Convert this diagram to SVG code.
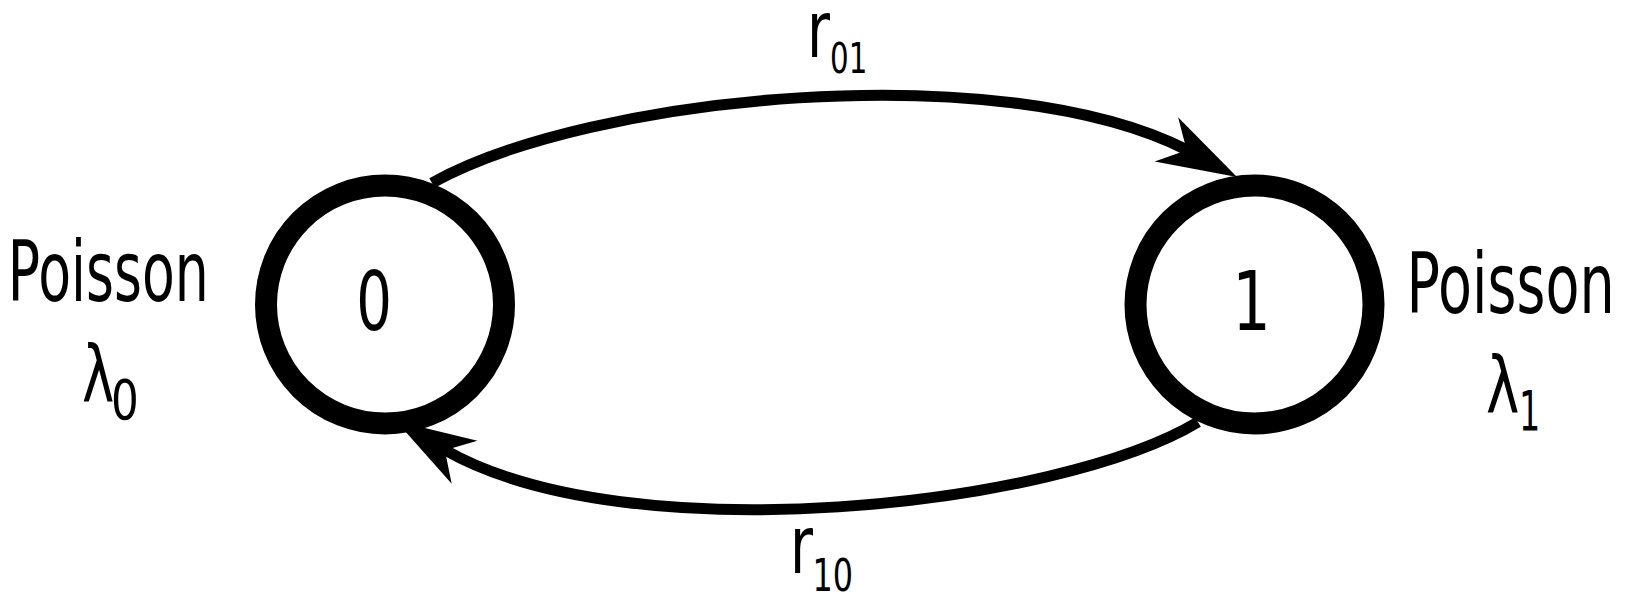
<svg xmlns="http://www.w3.org/2000/svg" xmlns:xlink="http://www.w3.org/1999/xlink" width="1628" height="606" viewBox="0 0 1628 606">
  <style>
    .state { fill: #fff; stroke: #000; stroke-width: 22; }
    .edge { fill: none; stroke: #000; stroke-width: 11; }
    .head { fill: #000; stroke: none; }
    .t { font-family: "DejaVu Sans", "Liberation Sans", sans-serif; fill: #000; }
  </style>
  <defs>
    <path id="ah" d="M0,0 L-80,-25 L-57,0 L-80,25 Z"/>
  </defs>
  <rect width="1628" height="606" fill="#fff"/>

  <g id="connectors">
    <path class="edge" d="M432,183 C590,95 1000,55 1187,150"/>
    <use xlink:href="#ah" class="head" transform="translate(1237,177) rotate(28)"/>
    <path class="edge" d="M1198,422 C1059,506 629,555 445,450"/>
    <use xlink:href="#ah" class="head" transform="translate(396,421) rotate(211)"/>
    <g id="edge-label-01">
      <text class="t" x="807" y="57" font-size="79" textLength="23" lengthAdjust="spacingAndGlyphs">r</text>
      <text class="t" x="830" y="73" font-size="42.5" textLength="37.3" lengthAdjust="spacingAndGlyphs">01</text>
    </g>
    <g id="edge-label-10">
      <text class="t" x="790" y="573" font-size="80" textLength="23" lengthAdjust="spacingAndGlyphs">r</text>
      <text class="t" x="812.5" y="591" font-size="44" textLength="40.6" lengthAdjust="spacingAndGlyphs">10</text>
    </g>
  </g>

  <g id="node-0">
    <circle class="state" cx="385" cy="304.5" r="119"/>
    <text class="t" x="356.3" y="330" font-size="82" textLength="35.7" lengthAdjust="spacingAndGlyphs">0</text>
  </g>
  <g id="node-1">
    <circle class="state" cx="1254.5" cy="304.5" r="119"/>
    <text class="t" x="1232.3" y="330" font-size="82" textLength="38.5" lengthAdjust="spacingAndGlyphs">1</text>
  </g>

  <g id="label-0">
    <text class="t" x="7.8" y="301" font-size="84" textLength="201" lengthAdjust="spacingAndGlyphs">Poisson</text>
    <text class="t" x="82" y="402" font-size="79" textLength="32.3" lengthAdjust="spacingAndGlyphs">λ</text>
    <text class="t" x="111" y="419" font-size="56" textLength="27.8" lengthAdjust="spacingAndGlyphs">0</text>
  </g>
  <g id="label-1">
    <text class="t" x="1406.6" y="313" font-size="84" textLength="208" lengthAdjust="spacingAndGlyphs">Poisson</text>
    <text class="t" x="1486" y="413" font-size="79" textLength="33.4" lengthAdjust="spacingAndGlyphs">λ</text>
    <text class="t" x="1519" y="430" font-size="55" textLength="21.3" lengthAdjust="spacingAndGlyphs">1</text>
  </g>
</svg>
